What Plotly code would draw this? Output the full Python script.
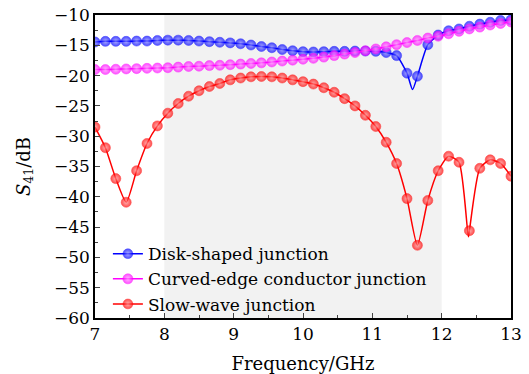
import plotly.graph_objects as go

freq = [round(7 + 0.15 * i, 2) for i in range(41)]

disk = [-14.45, -14.35, -14.35, -14.35, -14.3, -14.3, -14.2, -14.15, -14.15, -14.2,
        -14.3, -14.4, -14.5, -14.6, -14.75, -14.95, -15.2, -15.4, -15.7, -15.9,
        -16.05, -16.1, -16.05, -16.0, -16.0, -15.95, -15.95, -16.0, -16.2, -16.7,
        -19.6, -20.1, -14.9, -13.3, -12.6, -12.3, -11.85, -11.5, -11.2, -10.9, -10.8]
# extra line-only point read at the bottom of the narrow dip
disk_dip_x = 11.58
disk_dip_y = -22.3

curved = [-19.0, -19.0, -18.95, -18.9, -18.85, -18.8, -18.75, -18.7, -18.6, -18.5,
          -18.45, -18.35, -18.3, -18.2, -18.1, -18.0, -17.9, -17.75, -17.6, -17.45,
          -17.3, -17.15, -16.95, -16.7, -16.45, -16.2, -15.9, -15.6, -15.25, -14.9,
          -14.55, -14.2, -13.8, -13.5, -13.1, -12.7, -12.3, -12.0, -11.65, -11.4, -11.15]

slow = [-28.5, -31.9, -37.0, -40.9, -35.7, -31.2, -28.3, -26.2, -24.6, -23.4,
        -22.5, -21.8, -21.3, -20.7, -20.4, -20.2, -20.15, -20.2, -20.4, -20.7,
        -21.0, -21.4, -22.0, -22.75, -23.8, -25.0, -26.55, -28.4, -31.0, -34.5,
        -40.3, -48.0, -40.6, -35.7, -33.3, -34.3, -45.6, -35.3, -33.9, -34.5, -36.6]
slow_dip_x = 12.385
slow_dip_y = -46.6

names = ["Disk-shaped junction", "Curved-edge conductor junction", "Slow-wave junction"]
colors = ["#0000ff", "#ff00ff", "#ff0000"]
tints = ["#8a8aff", "#ff9cff", "#ff9090"]

yticks = list(range(-60, -9, 5))
yticktext = ["\u2212" + str(-v) for v in yticks]
xticks = list(range(7, 14))

band = [8, 12]


def with_dip(xs, ys, dx, dy):
    pts = sorted(list(zip(xs, ys, [10] * len(xs))) + [(dx, dy, 0)])
    return [p[0] for p in pts], [p[1] for p in pts], [p[2] for p in pts]


fig = go.Figure()
fig.add_vrect(x0=band[0], x1=band[1], fillcolor="#f2f2f2", line_width=0, layer="below")

series = [
    with_dip(freq, disk, disk_dip_x, disk_dip_y),
    (freq, curved, [10] * len(freq)),
    with_dip(freq, slow, slow_dip_x, slow_dip_y),
]

for (xs, ys, sz), name, c, t in zip(series, names, colors, tints):
    fig.add_trace(go.Scatter(
        x=xs, y=ys, name=name, mode="lines+markers",
        line=dict(color=c, width=1.5, shape="spline", smoothing=0.6),
        marker=dict(size=sz, color=c, line=dict(width=0.6, color=c),
                    gradient=dict(type="radial", color=t)),
    ))

font = "DejaVu Serif"
fig.update_layout(
    width=529, height=374,
    margin=dict(l=95, r=18, t=15, b=56),
    paper_bgcolor="white", plot_bgcolor="white",
    font=dict(family=font, size=16, color="black"),
    showlegend=True,
    legend=dict(x=0.031, y=0.27, xanchor="left", yanchor="top",
                bgcolor="rgba(0,0,0,0)", font=dict(size=17, family=font),
                tracegroupgap=0, itemwidth=30),
    xaxis=dict(range=[7, 13], tickvals=xticks, ticks="inside", ticklen=5,
               showline=True, linecolor="black", linewidth=1.5, mirror=True,
               showgrid=False, zeroline=False, automargin=False,
               tickfont=dict(size=17), ticklabeloverflow="allow",
               minor=dict(ticks="inside", ticklen=3, dtick=0.5, showgrid=False),
               title=dict(text="Frequency/GHz", standoff=14, font=dict(size=18))),
    yaxis=dict(range=[-60, -10], tickvals=yticks, ticktext=yticktext,
               ticks="inside", ticklen=5,
               showline=True, linecolor="black", linewidth=1.5, mirror=True,
               showgrid=False, zeroline=False, automargin=False,
               tickfont=dict(size=17), ticklabeloverflow="allow",
               minor=dict(ticks="inside", ticklen=3, dtick=2.5, showgrid=False),
               title=dict(text="<i>S</i><sub>41</sub>/dB", standoff=19, font=dict(size=18))),
)

# remove the page's default 8px body margin so the figure fills the 529x374 window
fig.write_html("out.html", config={"displayModeBar": False},
               post_script="document.body.style.margin='0px';")
